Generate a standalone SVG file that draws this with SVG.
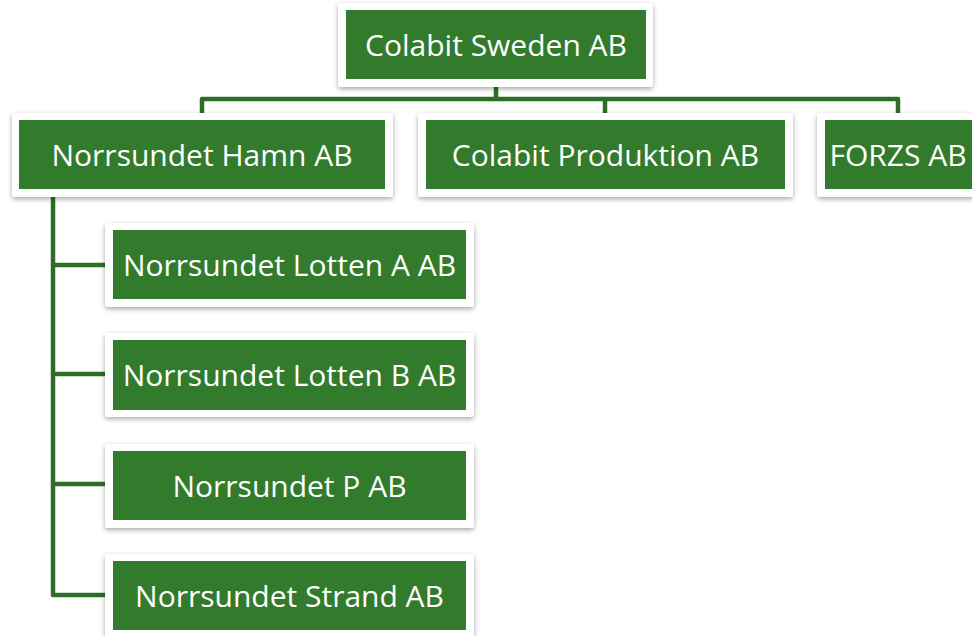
<svg xmlns="http://www.w3.org/2000/svg" width="972" height="636" viewBox="0 0 972 636">
<defs>
<filter id="sh" x="-10%" y="-20%" width="120%" height="150%">
<feDropShadow dx="0" dy="2" stdDeviation="2.5" flood-color="#000" flood-opacity="0.35"/>
</filter>
</defs>
<style>
.frame{fill:#ffffff;filter:url(#sh)}
.box{fill:#327B2C}
.lbl{font-family:"Open Sans","Noto Sans",sans-serif;font-size:30px;fill:#ffffff;text-anchor:middle;dominant-baseline:central}
.conn{fill:none;stroke:#2E6D27;stroke-width:4.5;stroke-linejoin:round}
</style>
<rect width="972" height="636" fill="#ffffff"/>
<g id="connectors">
<path class="conn" d="M496,86 V99"/>
<path class="conn" d="M202,113 V99 H898 V113"/>
<path class="conn" d="M605,99 V113"/>
<path class="conn" d="M53,195 V595 H107"/>
<path class="conn" d="M53,265 H107"/>
<path class="conn" d="M53,374 H107"/>
<path class="conn" d="M53,484 H107"/>
</g>
<g id="n-colabit-sweden">
<rect class="frame" x="338" y="3" width="315" height="84" rx="3"/>
<rect class="box" x="346" y="10" width="300" height="69"/>
<text class="lbl" x="496" y="44">Colabit Sweden AB</text>
</g>
<g id="n-norrsundet-hamn">
<rect class="frame" x="12" y="113" width="381" height="84" rx="3"/>
<rect class="box" x="19" y="120" width="366" height="69"/>
<text class="lbl" x="202" y="154">Norrsundet Hamn AB</text>
</g>
<g id="n-colabit-produktion">
<rect class="frame" x="418" y="113" width="375" height="84" rx="3"/>
<rect class="box" x="426" y="120" width="359" height="69"/>
<text class="lbl" x="605.5" y="154">Colabit Produktion AB</text>
</g>
<g id="n-forzs">
<rect class="frame" x="817" y="113" width="170" height="84" rx="3"/>
<rect class="box" x="825" y="120" width="160" height="69"/>
<text class="lbl" x="898" y="154">FORZS AB</text>
</g>
<g id="n-lotten-a">
<rect class="frame" x="105" y="223" width="369" height="84" rx="3"/>
<rect class="box" x="113" y="230" width="353" height="69"/>
<text class="lbl" x="289.5" y="264">Norrsundet Lotten A AB</text>
</g>
<g id="n-lotten-b">
<rect class="frame" x="105" y="333" width="369" height="84" rx="3"/>
<rect class="box" x="113" y="340" width="353" height="70"/>
<text class="lbl" x="289.5" y="374.5">Norrsundet Lotten B AB</text>
</g>
<g id="n-p">
<rect class="frame" x="105" y="444" width="369" height="84" rx="3"/>
<rect class="box" x="113" y="451" width="353" height="69"/>
<text class="lbl" x="289.5" y="485">Norrsundet P AB</text>
</g>
<g id="n-strand">
<rect class="frame" x="105" y="554" width="369" height="84" rx="3"/>
<rect class="box" x="113" y="561" width="353" height="69"/>
<text class="lbl" x="289.5" y="595">Norrsundet Strand AB</text>
</g>
</svg>
